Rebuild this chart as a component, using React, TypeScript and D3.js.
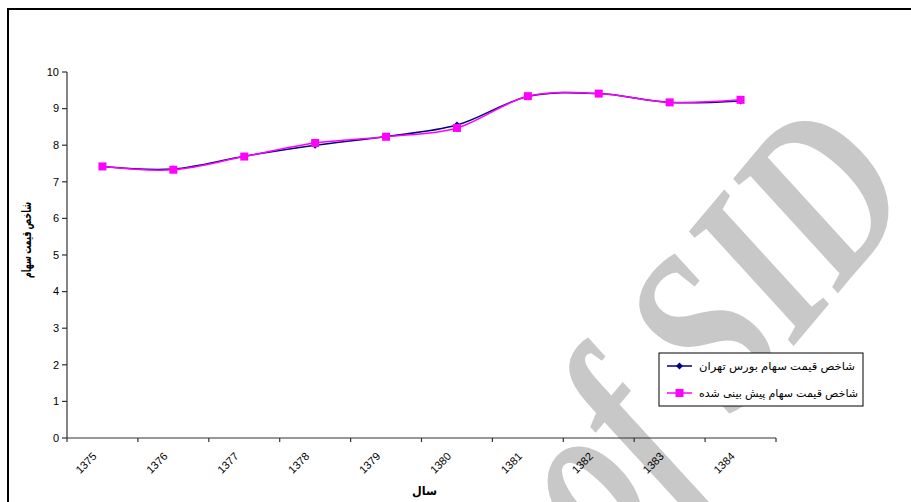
import React, { useEffect } from "react";
import * as d3 from "d3";

// Years (Persian calendar) on the category axis
const years = ["1375", "1376", "1377", "1378", "1379", "1380", "1381", "1382", "1383", "1384"];
// Tehran stock exchange price index
const actualIndex = [7.42, 7.35, 7.7, 8.0, 8.24, 8.55, 9.33, 9.41, 9.17, 9.21];
// Predicted price index
const predictedIndex = [7.42, 7.33, 7.69, 8.06, 8.23, 8.47, 9.34, 9.41, 9.17, 9.24];
const yTicks = [0, 1, 2, 3, 4, 5, 6, 7, 8, 9, 10];

const seriesNames = ["شاخص قیمت سهام بورس تهران", "شاخص قیمت سهام پیش بینی شده"];
const xTitle = "سال";
const yTitle = "شاخص قیمت سهام";

const W = 911;
const H = 502;
const FONT = "'Liberation Sans', Arial, 'DejaVu Sans', sans-serif";

export default function App() {
  useEffect(() => {
    document.body.style.margin = "0";
  }, []);

  const x = d3.scaleBand<string>().domain(years).range([67, 776]);
  const y = d3.scaleLinear().domain([0, 10]).range([438, 72]);
  const cx = (d: string) => (x(d) ?? 0) + x.bandwidth() / 2;

  const line = d3
    .line<number>()
    .x((_, i) => cx(years[i]))
    .y((v) => y(v))
    .curve(d3.curveCardinal.tension(0));

  const boundaries = years.map((d) => x(d) ?? 0).concat([x.range()[1]]);

  const diamond = (px: number, py: number, r: number) =>
    `M${px},${py - r}L${px + r},${py}L${px},${py + r}L${px - r},${py}Z`;

  const legendX = 659;
  const legendY = 353;
  const legendRows = [366, 393];

  return (
    <svg width={W} height={H} style={{ display: "block", background: "#fff" }} fontFamily={FONT}>
      {/* archive watermark, condensed serif running up at -50° */}
      <text
        transform="translate(609,566) rotate(-50) scale(0.75,1)"
        fontFamily="'Liberation Serif', 'Times New Roman', serif"
        fontStyle="italic"
        fontWeight="bold"
        fontSize={235}
        fill="#c8c8c8"
      >
        of SID
      </text>

      {/* chart frame */}
      <rect x={8} y={9} width={1000} height={700} fill="none" stroke="#000" strokeWidth={2} />

      {/* y axis */}
      <line x1={67} x2={67} y1={y(10)} y2={y(0)} stroke="#333" strokeWidth={1.2} />
      {yTicks.map((t) => (
        <g key={t}>
          <line x1={62} x2={67} y1={y(t)} y2={y(t)} stroke="#333" strokeWidth={1.2} />
          <text x={59} y={y(t)} dy="0.35em" textAnchor="end" fontSize={11} fill="#000">
            {t}
          </text>
        </g>
      ))}

      {/* x axis */}
      <line x1={67} x2={776} y1={y(0)} y2={y(0)} stroke="#333" strokeWidth={1.2} />
      {boundaries.map((b, i) => (
        <line key={i} x1={b} x2={b} y1={y(0)} y2={y(0) + 4} stroke="#333" strokeWidth={1.2} />
      ))}
      {years.map((d) => (
        <text
          key={d}
          transform={`translate(${cx(d) - 5},${y(0) + 19}) rotate(-45)`}
          textAnchor="end"
          fontSize={11}
          fill="#000"
        >
          {d}
        </text>
      ))}

      {/* axis titles */}
      <text
        x={412}
        y={495}
        fontSize={12}
        fontWeight="bold"
        fill="#000"
        textLength={25}
        lengthAdjust="spacingAndGlyphs"
      >
        {xTitle}
      </text>
      <text
        transform="translate(31,278) rotate(-90)"
        fontSize={13}
        fontWeight="bold"
        fill="#000"
        textLength={76}
        lengthAdjust="spacingAndGlyphs"
      >
        {yTitle}
      </text>

      {/* actual index */}
      <path d={line(actualIndex) ?? ""} fill="none" stroke="#000080" strokeWidth={1.5} />
      {actualIndex.map((v, i) => (
        <path key={i} d={diamond(cx(years[i]), y(v), 3.5)} fill="#000080" />
      ))}

      {/* predicted index */}
      <path d={line(predictedIndex) ?? ""} fill="none" stroke="#ff00ff" strokeWidth={1.5} />
      {predictedIndex.map((v, i) => (
        <rect key={i} x={cx(years[i]) - 4} y={y(v) - 4} width={8} height={8} fill="#ff00ff" />
      ))}

      {/* legend */}
      <rect x={legendX} y={legendY} width={204} height={53} fill="#fff" stroke="#000" strokeWidth={1} />
      <line x1={667} x2={692} y1={legendRows[0]} y2={legendRows[0]} stroke="#000080" strokeWidth={1.5} />
      <path d={diamond(679.5, legendRows[0], 3.5)} fill="#000080" />
      <line x1={667} x2={692} y1={legendRows[1]} y2={legendRows[1]} stroke="#ff00ff" strokeWidth={1.5} />
      <rect x={675.5} y={legendRows[1] - 4} width={8} height={8} fill="#ff00ff" />
      {seriesNames.map((name, i) => (
        <text
          key={name}
          x={699}
          y={legendRows[i]}
          dy="0.35em"
          fontSize={11}
          fill="#000"
          textLength={i === 0 ? 156 : 159}
          lengthAdjust="spacingAndGlyphs"
        >
          {name}
        </text>
      ))}
    </svg>
  );
}
